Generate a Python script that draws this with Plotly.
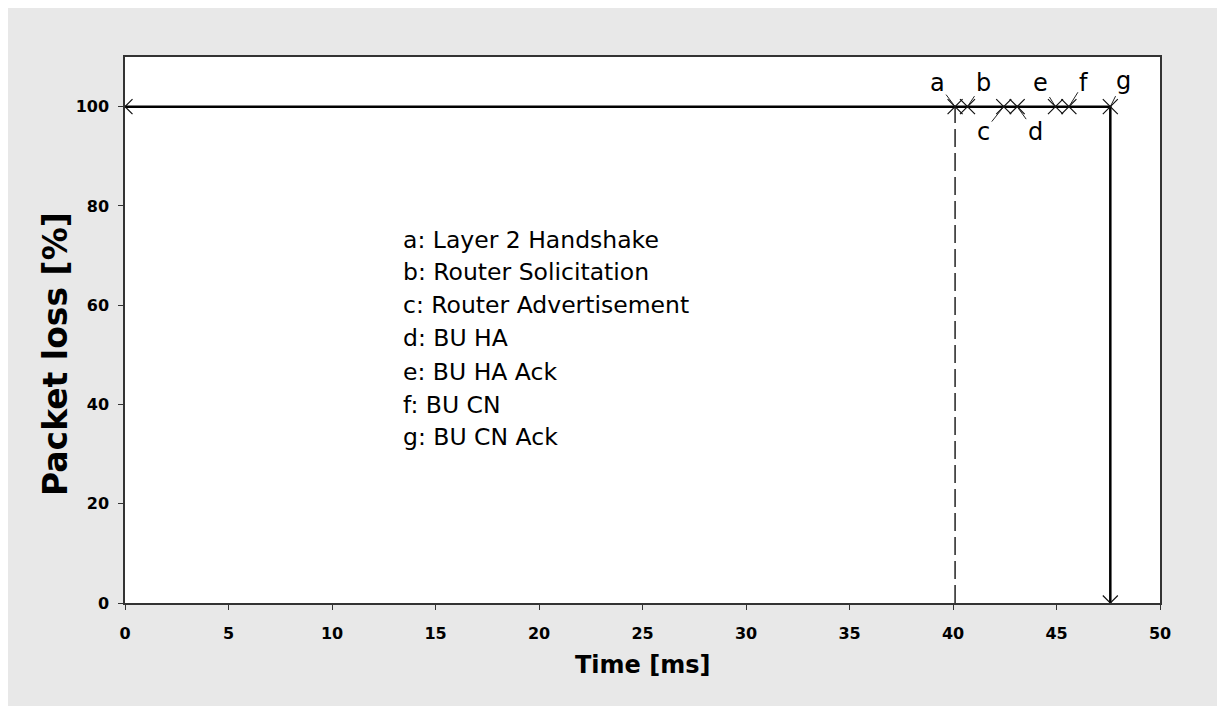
import plotly.graph_objects as go

# Data
line_time = [0, 47.6, 47.6]
line_loss = [100, 100, 0]
event_labels = ["a", "b", "c", "d", "e", "f", "g"]
event_time = [40.1, 40.7, 42.45, 43.1, 44.95, 45.6, 47.6]
event_loss = [100, 100, 100, 100, 100, 100, 100]
event_names = ["a: Layer 2 Handshake", "b: Router Solicitation", "c: Router Advertisement",
               "d: BU HA", "e: BU HA Ack", "f: BU CN", "g: BU CN Ack"]
dash_time = [40.1, 40.1]
dash_loss = [0, 100]
x_ticks = [0, 5, 10, 15, 20, 25, 30, 35, 40, 45, 50]
y_ticks = [0, 20, 40, 60, 80, 100]

OFF = 8  # page body margin
W, H = 1225 - OFF, 706 - OFF
# screen-space plot area: x 125..1160, y 57..603
L, T = 125 - OFF, 57 - OFF
R = W - (1160 - OFF)
B = H - (603 - OFF)
pw, ph = W - L - R, H - T - B

def px(xs):
    return (xs - OFF - L) / pw

def py(ys):
    return (H - B - (ys - OFF)) / ph

fig = go.Figure()
fig.add_trace(go.Scatter(x=dash_time, y=dash_loss, mode="lines",
                         line=dict(color="black", width=1.3, dash="18px,6px"),
                         showlegend=False, hoverinfo="skip"))
fig.add_trace(go.Scatter(x=line_time, y=line_loss, mode="lines",
                         line=dict(color="black", width=2.5), showlegend=False))
fig.add_trace(go.Scatter(x=[line_time[0]] + event_time + [line_time[-1]],
                         y=[line_loss[0]] + event_loss + [line_loss[-1]],
                         mode="markers",
                         marker=dict(symbol="x-thin", size=15, line=dict(color="#111", width=1.2)),
                         showlegend=False))

font = "DejaVu Sans, Verdana, sans-serif"
offsets = {"a": (-18, -24), "b": (16, -24), "c": (-20, 25), "d": (18, 25),
           "e": (-15, -24), "f": (15, -24), "g": (13, -26)}
for lab, t, v in zip(event_labels, event_time, event_loss):
    ax, ay = offsets[lab]
    fig.add_annotation(x=t, y=v, xref="x", yref="y", text=lab, showarrow=True,
                       arrowhead=0, arrowwidth=1, arrowcolor="#222", ax=ax, ay=ay,
                       font=dict(family=font, size=24, color="black"), standoff=0)

line_y = [240, 272, 305, 338, 372, 405, 437]
for name, yp in zip(event_names, line_y):
    fig.add_annotation(x=px(401), y=py(yp), xref="paper", yref="paper", text=name,
                       showarrow=False, xanchor="left", yanchor="middle",
                       font=dict(family=font, size=23.5, color="black"))

fig.add_annotation(x=px(642), y=py(665), xref="paper", yref="paper", text="<b>Time [ms]</b>",
                   showarrow=False, xanchor="center", yanchor="middle",
                   font=dict(family=font, size=24, color="black"))
fig.add_annotation(x=px(55), y=py(354), xref="paper", yref="paper", text="<b>Packet loss [%]</b>",
                   showarrow=False, xanchor="center", yanchor="middle", textangle=-90,
                   font=dict(family=font, size=33, color="black"))

fig.update_layout(
    width=W, height=H, margin=dict(l=L, r=R, t=T, b=B),
    paper_bgcolor="#e8e8e8", plot_bgcolor="white",
    xaxis=dict(range=[0, 50], tickvals=x_ticks, showgrid=False, zeroline=False,
               showline=True, linecolor="#333", linewidth=1.5, mirror=True,
               ticks="outside", ticklen=5, tickcolor="#333", ticklabelstandoff=10,
               tickfont=dict(family=font, size=16, color="black", weight="bold")),
    yaxis=dict(range=[0, 110], tickvals=y_ticks, showgrid=False, zeroline=False,
               showline=True, linecolor="#333", linewidth=1.5, mirror=True,
               ticks="outside", ticklen=5, tickcolor="#333", ticklabelstandoff=6,
               tickfont=dict(family=font, size=16, color="black", weight="bold")),
)

fig.write_html("out.html")
